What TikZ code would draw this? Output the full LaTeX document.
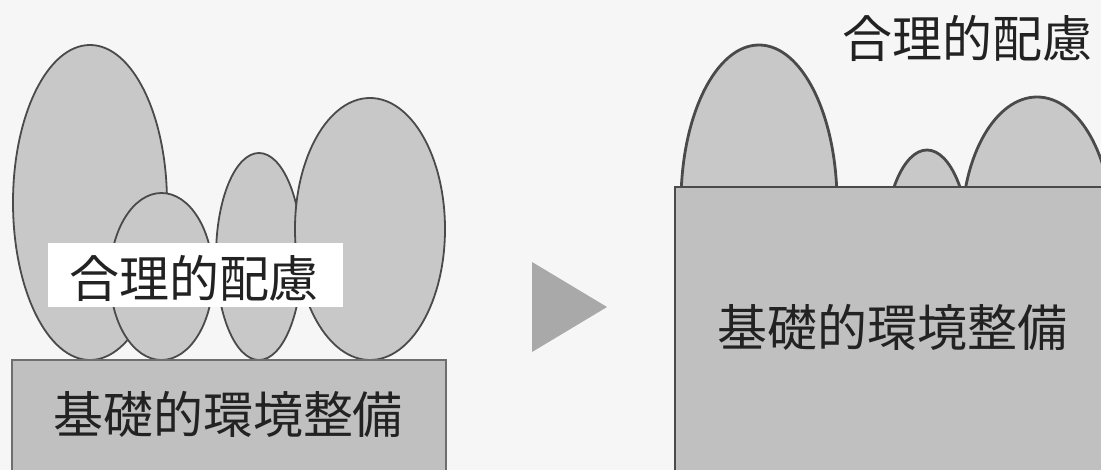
\documentclass[tikz,border=0pt]{standalone}
\usepackage{fontspec}
\setmainfont{Noto Sans CJK JP}
\usetikzlibrary{shapes.geometric}
\definecolor{bgc}{HTML}{F6F6F6}
\definecolor{ellc}{HTML}{C8C8C8}
\definecolor{rectc}{HTML}{C0C0C0}
\definecolor{linec}{HTML}{4A4A4A}
\definecolor{rlinec}{HTML}{6E6E6E}
\definecolor{tric}{HTML}{A9A9A9}
\definecolor{txtc}{HTML}{222222}
\tikzset{
  blob/.style={ellipse, draw=linec, fill=ellc, line width=1.8pt, inner sep=0pt},
  blobR/.style={blob, line width=2.8pt},
  lbl/.style={font=\fontsize{50}{50}\selectfont, text=txtc, inner sep=0pt},
}
\begin{document}
\begin{tikzpicture}[x=1pt,y=-1pt]
\useasboundingbox (0,0) rectangle (1101,470);
\clip (0,0) rectangle (1101,470);
\fill[bgc] (0,0) rectangle (1101,470);
% left group
\node[blob, minimum width=154pt, minimum height=315pt] (e1) at (90,202.5) {};
\node[blob, minimum width=103pt, minimum height=167pt] (e2) at (161.5,276.5) {};
\node[blob, minimum width=86pt, minimum height=207pt] (e3) at (259,256.5) {};
\node[blob, minimum width=150pt, minimum height=262pt] (e4) at (370,229) {};
\draw[draw=rlinec, fill=rectc, line width=1.6pt] (12,360) rectangle (446,490);
\node[fill=white, minimum width=295pt, minimum height=64pt, inner sep=0pt] (wbox) at (195.5,275) {};
\node[lbl] (tl1) at (194,278) {合理的配慮};
\node[lbl] (tl2) at (228,414) {基礎的環境整備};
% arrow
\fill[tric] (532,262) -- (607,307) -- (532,352) -- cycle;
% right group
\node[blobR, minimum width=156pt, minimum height=315pt] (r1) at (759,202.5) {};
\node[blobR, minimum width=86pt, minimum height=207pt] (r3) at (927,253.5) {};
\node[blobR, minimum width=150pt, minimum height=262pt] (r4) at (1037,228) {};
\draw[draw=linec, fill=rectc, line width=2.8pt] (675,187) rectangle (1120,490);
\node[lbl] (tr1) at (892,327) {基礎的環境整備};
\node[lbl] (tr2) at (967,38) {合理的配慮};
\end{tikzpicture}
\end{document}
